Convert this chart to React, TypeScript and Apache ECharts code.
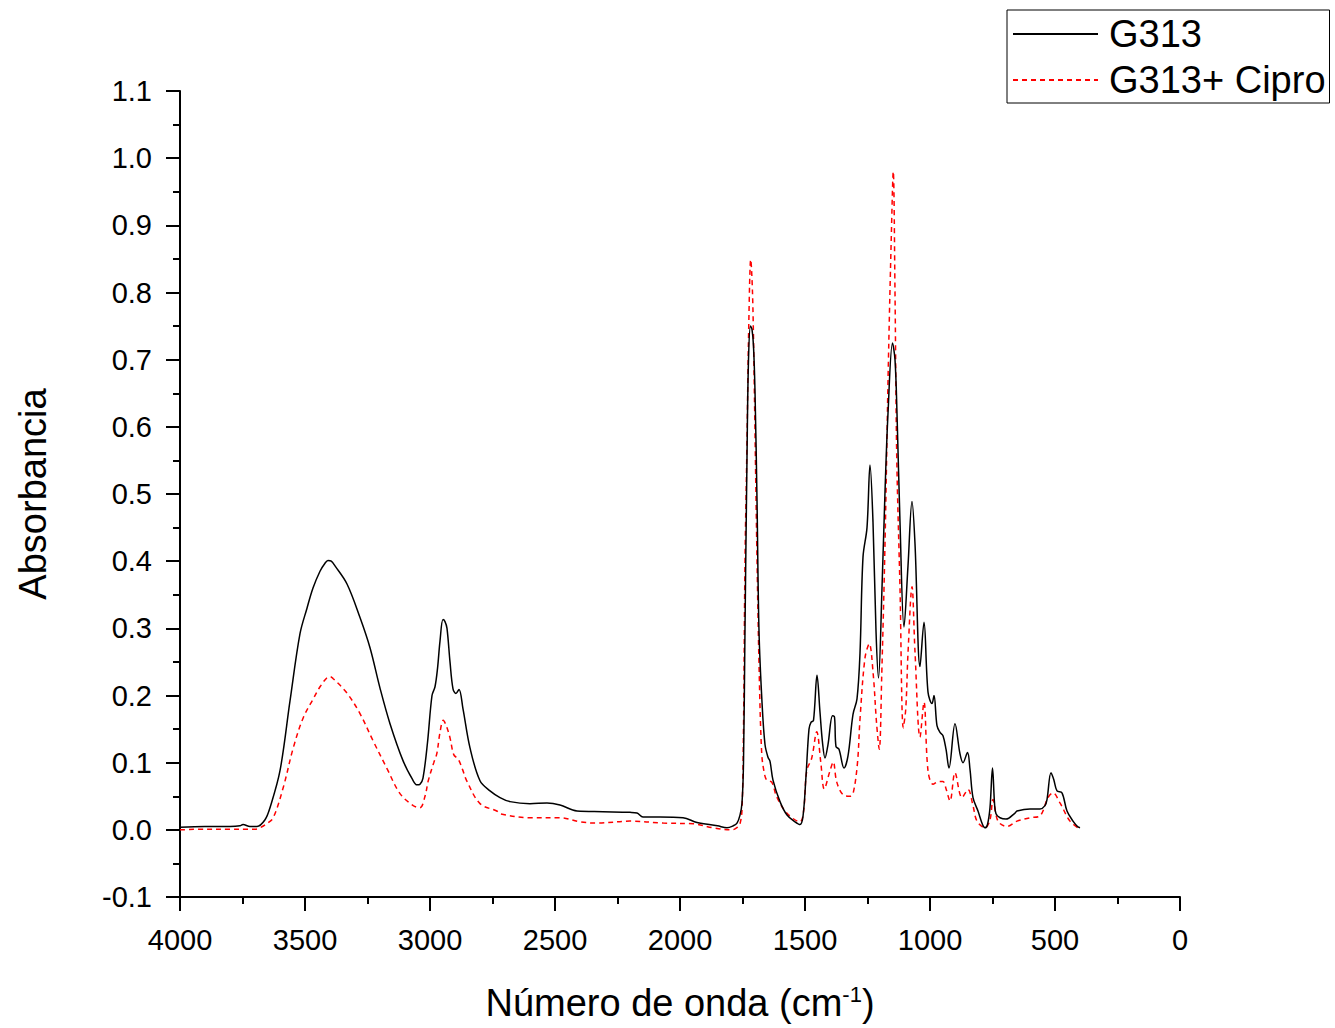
import React, { useEffect, useRef } from "react";
import * as echarts from "echarts";

// G313 spectrum (wavenumber cm-1, absorbance)
const g313Wavenumbers = [
  4000, 3900, 3800, 3760, 3748, 3720, 3692, 3660, 3640, 3600, 3560, 3520, 3492, 3468, 3440, 3420, 3408, 3395,
  3380, 3332, 3280, 3240, 3200, 3160, 3108, 3070, 3052, 3040, 3028, 3010, 2992, 2980, 2970, 2960, 2948, 2940,
  2932, 2920, 2908, 2896, 2884, 2868, 2840, 2800, 2760, 2720, 2680, 2600, 2532, 2480, 2412, 2308, 2200, 2172,
  2148, 2080, 1988, 1932, 1850, 1812, 1787, 1772, 1760, 1752, 1746, 1740, 1732, 1726, 1718, 1712, 1706, 1700,
  1692, 1684, 1672, 1660, 1648, 1640, 1628, 1600, 1572, 1540, 1520, 1508, 1496, 1484, 1476, 1466, 1452, 1440,
  1430, 1420, 1408, 1390, 1382, 1376, 1364, 1344, 1328, 1308, 1292, 1280, 1268, 1252, 1240, 1228, 1216, 1206,
  1192, 1180, 1168, 1150, 1140, 1132, 1120, 1104, 1088, 1072, 1060, 1040, 1024, 1008, 992, 984, 972, 960, 948,
  936, 924, 900, 880, 868, 850, 840, 828, 808, 790, 780, 770, 760, 750, 742, 736, 720, 696, 660, 652, 600, 560,
  540, 532, 516, 505, 492, 472, 452, 428, 410, 400,
];
const g313Absorbance = [
  0.004, 0.005, 0.005, 0.006, 0.008, 0.005, 0.005, 0.015, 0.033, 0.088, 0.192, 0.292, 0.33, 0.36, 0.385, 0.397,
  0.401, 0.4, 0.393, 0.366, 0.316, 0.271, 0.211, 0.158, 0.103, 0.075, 0.067, 0.068, 0.077, 0.13, 0.2, 0.213,
  0.24, 0.281, 0.313, 0.31, 0.3, 0.25, 0.21, 0.203, 0.209, 0.18, 0.122, 0.073, 0.058, 0.048, 0.042, 0.039, 0.04,
  0.037, 0.028, 0.027, 0.026, 0.025, 0.019, 0.019, 0.018, 0.011, 0.006, 0.003, 0.006, 0.01, 0.022, 0.04, 0.1,
  0.3, 0.555, 0.7, 0.75, 0.745, 0.72, 0.653, 0.491, 0.296, 0.19, 0.127, 0.108, 0.102, 0.074, 0.042, 0.022,
  0.012, 0.008, 0.02, 0.08, 0.15, 0.16, 0.163, 0.23, 0.175, 0.13, 0.107, 0.127, 0.17, 0.168, 0.124, 0.12,
  0.092, 0.11, 0.172, 0.195, 0.263, 0.406, 0.45, 0.543, 0.458, 0.296, 0.226, 0.36, 0.503, 0.62, 0.725, 0.7,
  0.62, 0.458, 0.302, 0.393, 0.489, 0.426, 0.243, 0.309, 0.205, 0.188, 0.2, 0.155, 0.145, 0.14, 0.12, 0.092,
  0.158, 0.113, 0.1, 0.115, 0.09, 0.048, 0.028, 0.008, 0.003, 0.008, 0.033, 0.092, 0.04, 0.024, 0.018, 0.016,
  0.025, 0.028, 0.031, 0.031, 0.036, 0.045, 0.085, 0.075, 0.058, 0.055, 0.028, 0.013, 0.005, 0.003,
];

// G313 + Cipro spectrum
const ciproWavenumbers = [
  4000, 3900, 3800, 3733, 3700, 3680, 3650, 3627, 3587, 3547, 3507, 3467, 3440, 3413, 3400, 3387, 3333, 3280,
  3227, 3173, 3120, 3067, 3040, 3020, 3007, 2985, 2973, 2960, 2947, 2935, 2920, 2905, 2887, 2870, 2853, 2800,
  2733, 2720, 2600, 2480, 2400, 2333, 2200, 2067, 1947, 1867, 1792, 1770, 1760, 1752, 1746, 1740, 1733, 1725,
  1717, 1710, 1704, 1693, 1683, 1673, 1663, 1653, 1633, 1613, 1573, 1520, 1505, 1493, 1473, 1453, 1437, 1423,
  1400, 1387, 1373, 1347, 1320, 1307, 1290, 1280, 1260, 1243, 1227, 1214, 1203, 1193, 1180, 1167, 1155, 1147,
  1140, 1133, 1120, 1107, 1097, 1088, 1072, 1060, 1040, 1024, 1008, 988, 965, 948, 935, 920, 900, 872, 848, 828,
  812, 780, 760, 748, 728, 692, 652, 600, 560, 528, 508, 480, 440, 400,
];
const ciproAbsorbance = [
  0.0, 0.001, 0.001, 0.001, 0.001, 0.003, 0.01, 0.018, 0.063, 0.122, 0.167, 0.195, 0.213, 0.226, 0.228, 0.225,
  0.204, 0.173, 0.132, 0.092, 0.054, 0.036, 0.033, 0.05, 0.073, 0.1, 0.113, 0.145, 0.163, 0.155, 0.137, 0.112,
  0.105, 0.09, 0.073, 0.039, 0.028, 0.024, 0.018, 0.018, 0.012, 0.01, 0.013, 0.01, 0.009, 0.003, 0.0, 0.004,
  0.009, 0.03, 0.15, 0.4, 0.555, 0.75, 0.849, 0.8, 0.686, 0.426, 0.231, 0.113, 0.085, 0.074, 0.071, 0.049,
  0.025, 0.012, 0.03, 0.088, 0.107, 0.146, 0.101, 0.061, 0.088, 0.101, 0.071, 0.052, 0.05, 0.055, 0.1, 0.165,
  0.256, 0.277, 0.231, 0.16, 0.12, 0.231, 0.426, 0.686, 0.88, 0.98, 0.8, 0.555, 0.36, 0.152, 0.18, 0.263,
  0.362, 0.265, 0.138, 0.19, 0.088, 0.068, 0.072, 0.072, 0.06, 0.043, 0.085, 0.048, 0.06, 0.036, 0.013,
  0.003, 0.015, 0.045, 0.013, 0.005, 0.013, 0.018, 0.021, 0.048, 0.055, 0.04, 0.013, 0.001,
];

const seriesNames = ["G313", "G313+ Cipro"];
const FONT = "'Liberation Sans', Arial, Helvetica, sans-serif";

function pairs(xs: number[], ys: number[]) {
  return xs.map((x, i) => [x, ys[i]]);
}

export default function App() {
  const ref = useRef<HTMLDivElement>(null);

  useEffect(() => {
    document.body.style.margin = "0";
    if (!ref.current) return;
    const chart = echarts.init(ref.current, undefined, { renderer: "svg" });
    const axisLineStyle = { color: "#000", width: 2 };
    chart.setOption({
      animation: false,
      backgroundColor: "#fff",
      grid: { left: 180, right: 155, top: 91, bottom: 131, containLabel: false },
      legend: {
        data: seriesNames,
        orient: "vertical",
        left: 1007,
        top: 10,
        itemWidth: 85,
        itemHeight: 14,
        itemGap: 8,
        padding: [5, 4, 4, 5],
        borderColor: "#000",
        borderWidth: 1,
        itemStyle: { opacity: 0 },
        textStyle: { fontSize: 38, color: "#000", fontFamily: FONT, padding: [0, 0, 0, 6], lineHeight: 38 },
      },
      xAxis: {
        type: "value",
        min: 0,
        max: 4000,
        interval: 500,
        inverse: true,
        name: "{n|Número de onda (cm}{s|-1}{n|)}",
        nameLocation: "middle",
        nameGap: 86,
        nameTextStyle: {
          fontFamily: FONT,
          color: "#000",
          fontSize: 38,
          rich: {
            n: { fontFamily: FONT, color: "#000", fontSize: 38, lineHeight: 40 },
            s: { fontFamily: FONT, color: "#000", fontSize: 22, verticalAlign: "top", lineHeight: 40 },
          },
        },
        axisLine: { onZero: false, lineStyle: axisLineStyle },
        axisTick: { length: 14, lineStyle: axisLineStyle },
        minorTick: { show: true, splitNumber: 2, length: 7, lineStyle: axisLineStyle },
        splitLine: { show: false },
        axisLabel: {
          fontSize: 29,
          color: "#000",
          fontFamily: FONT,
          margin: 28,
          formatter: (v: number) => String(v),
        },
      },
      yAxis: {
        type: "value",
        min: -0.1,
        max: 1.1,
        interval: 0.1,
        name: "Absorbancia",
        nameLocation: "middle",
        nameRotate: 90,
        nameGap: 128,
        nameTextStyle: { fontFamily: FONT, color: "#000", fontSize: 38 },
        axisLine: { show: true, onZero: false, lineStyle: axisLineStyle },
        axisTick: { show: true, length: 14, lineStyle: axisLineStyle },
        minorTick: { show: true, splitNumber: 2, length: 7, lineStyle: axisLineStyle },
        splitLine: { show: false },
        axisLabel: {
          fontSize: 29,
          color: "#000",
          fontFamily: FONT,
          margin: 28,
          formatter: (v: number) => v.toFixed(1),
        },
      },
      series: [
        {
          name: seriesNames[0],
          type: "line",
          data: pairs(g313Wavenumbers, g313Absorbance),
          symbol: "none",
          showSymbol: false,
          smooth: 0.35,
          lineStyle: { color: "#000", width: 1.5 },
          itemStyle: { color: "#000" },
          z: 3,
        },
        {
          name: seriesNames[1],
          type: "line",
          data: pairs(ciproWavenumbers, ciproAbsorbance),
          symbol: "none",
          showSymbol: false,
          smooth: 0.35,
          lineStyle: { color: "#ff0000", width: 1.5, type: [5, 4] },
          itemStyle: { color: "#ff0000" },
          z: 2,
        },
      ],
    });
    return () => chart.dispose();
  }, []);

  return <div ref={ref} style={{ width: 1335, height: 1028 }} />;
}
